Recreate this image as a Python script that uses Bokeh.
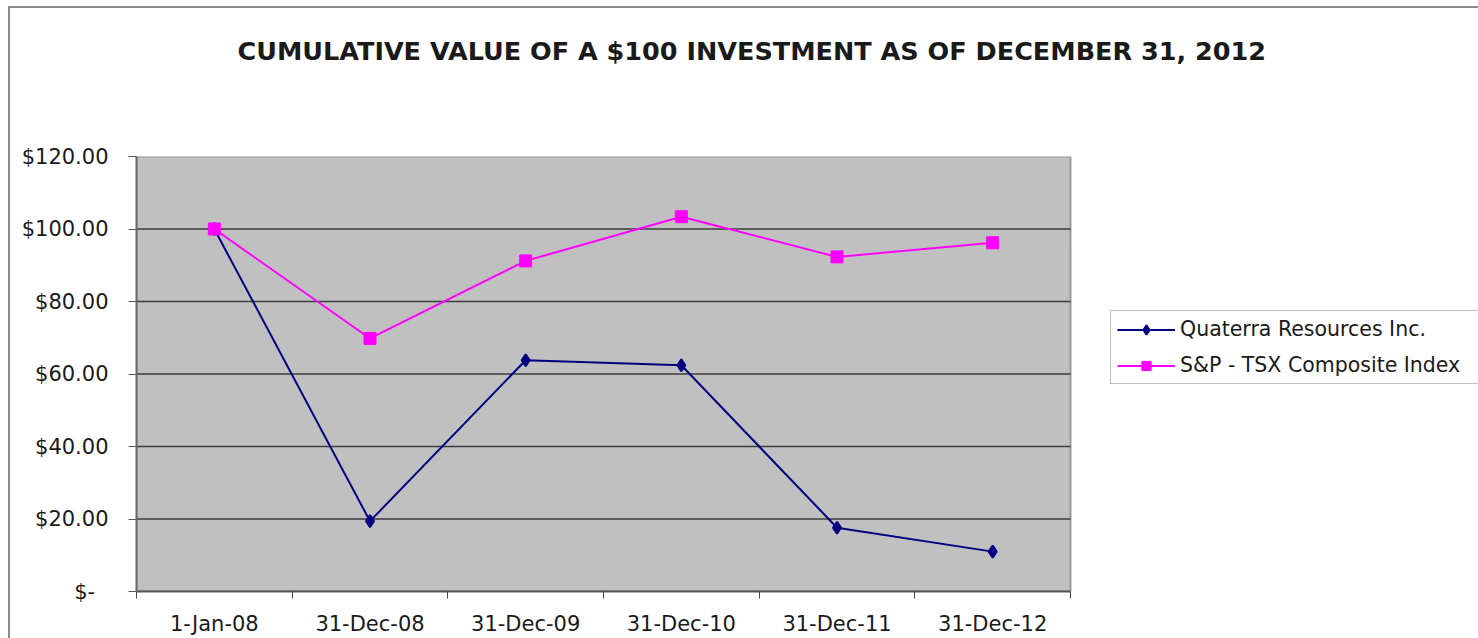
from bokeh.plotting import figure
from bokeh.models import FixedTicker, Legend, LegendItem, Range1d, Title
from bokeh.embed import file_html
from bokeh.resources import INLINE

# ---- data ----
dates = ["1-Jan-08", "31-Dec-08", "31-Dec-09", "31-Dec-10", "31-Dec-11", "31-Dec-12"]
quaterra = [100.0, 19.4, 63.8, 62.4, 17.6, 11.0]
sp_tsx = [100.0, 69.8, 91.2, 103.4, 92.3, 96.2]
y_ticks = [0, 20, 40, 60, 80, 100, 120]
y_tick_labels = ["$-\u00a0\u00a0", "$20.00", "$40.00", "$60.00", "$80.00", "$100.00", "$120.00"]
series_names = ["Quaterra Resources Inc.", "S&P - TSX Composite Index"]
title_text = "CUMULATIVE VALUE OF A $100 INVESTMENT AS OF DECEMBER 31, 2012"

FONT = "DejaVu Sans"
OX, OY = 10, 8                      # outer chart-area offset in the window
W, H = 1478 - OX, 638 - OY          # canvas size
# plot area (grey) in canvas px; the Bokeh frame runs on to the right edge
PL, PR, PT, PB = 136 - OX, 1070 - OX, 156 - OY, 600 - OY

n = len(dates)
y_max = y_ticks[-1]
xs = [i + 0.5 for i in range(n)]
x_end = n * (W - PL) / (PR - PL)    # frame extends past the plot area to hold the legend

p = figure(width=W, height=H, output_backend="svg", toolbar_location=None,
           x_range=Range1d(0, x_end), y_range=Range1d(0, y_max),
           min_border_left=PL, min_border_right=0,
           min_border_top=PT, min_border_bottom=H - PB,
           margin=(OY, 0, 0, OX))
p.styles = {"outline": "2px solid #8c8c8c"}

p.background_fill_color = "white"
p.border_fill_color = "white"
p.outline_line_color = None
p.xgrid.grid_line_color = None
p.ygrid.grid_line_color = None

# spacer between frame and title, then the title itself (further from frame)
p.add_layout(Title(text=" ", text_font_size="10px", standoff=73), "above")
p.add_layout(Title(text=title_text, align="left", offset=101,
                   text_font=FONT, text_font_style="bold",
                   text_font_size="25.5px", text_color="#1a1a1a",
                   standoff=10), "above")

# grey plot area and its horizontal grid lines
p.quad(left=[0], right=[n], bottom=[0], top=[y_max], fill_color="#c0c0c0",
       line_color="#9a9a9a", line_width=2)
inner = y_ticks[1:-1]
p.segment(x0=[0] * len(inner), x1=[n] * len(inner), y0=inner, y1=inner,
          line_color="#3c3c3c", line_width=1.5)

# y axis
p.yaxis.ticker = FixedTicker(ticks=y_ticks)
p.yaxis.major_label_overrides = {t: l for t, l in zip(y_ticks, y_tick_labels)}
p.yaxis.major_label_text_font = FONT
p.yaxis.major_label_text_font_size = "21px"
p.yaxis.major_label_text_color = "#1a1a1a"
p.yaxis.major_tick_in = 0
p.yaxis.major_tick_out = 8
p.yaxis.major_tick_line_color = "#555555"
p.yaxis.minor_tick_line_color = None
p.yaxis.major_label_standoff = 20
p.yaxis.axis_line_color = "#6a6a6a"
p.yaxis.axis_line_width = 2

# x axis
p.xaxis.bounds = (0, n)
p.xaxis.ticker = FixedTicker(ticks=xs, minor_ticks=list(range(n + 1)))
p.xaxis.major_label_overrides = {x: d for x, d in zip(xs, dates)}
p.xaxis.major_label_text_font = FONT
p.xaxis.major_label_text_font_size = "21px"
p.xaxis.major_label_text_color = "#1a1a1a"
p.xaxis.major_tick_in = 0
p.xaxis.major_tick_out = 0
p.xaxis.minor_tick_in = 0
p.xaxis.minor_tick_out = 7
p.xaxis.minor_tick_line_color = "#444444"
p.xaxis.major_label_standoff = 13
p.xaxis.axis_line_color = "#555555"
p.xaxis.axis_line_width = 2

# series
l1 = p.line(xs, quaterra, line_color="#000080", line_width=2)
s1 = p.scatter(xs, quaterra, marker="diamond", size=12, fill_color="#000080",
               line_color="#000080", line_width=2)
l2 = p.line(xs, sp_tsx, line_color="#ff00ff", line_width=2)
s2 = p.scatter(xs, sp_tsx, marker="square", size=12, fill_color="#ff00ff",
               line_color="#ff00ff")

legend = Legend(items=[LegendItem(label=series_names[0], renderers=[l1, s1]),
                       LegendItem(label=series_names[1], renderers=[l2, s2])],
                location=(1110 - 136, 600 - 382 - 11))
legend.label_text_font = FONT
legend.label_text_font_size = "20.5px"
legend.label_text_color = "#1a1a1a"
legend.padding = 6
legend.spacing = 12
legend.glyph_width = 58
legend.glyph_height = 23
legend.label_height = 23
legend.label_standoff = 5
legend.label_width = 292
legend.border_line_color = "#808080"
legend.border_line_width = 1
legend.background_fill_color = "white"
legend.background_fill_alpha = 1
legend.margin = 0
p.add_layout(legend, "center")

open("out.html", "w").write(file_html(p, INLINE))
